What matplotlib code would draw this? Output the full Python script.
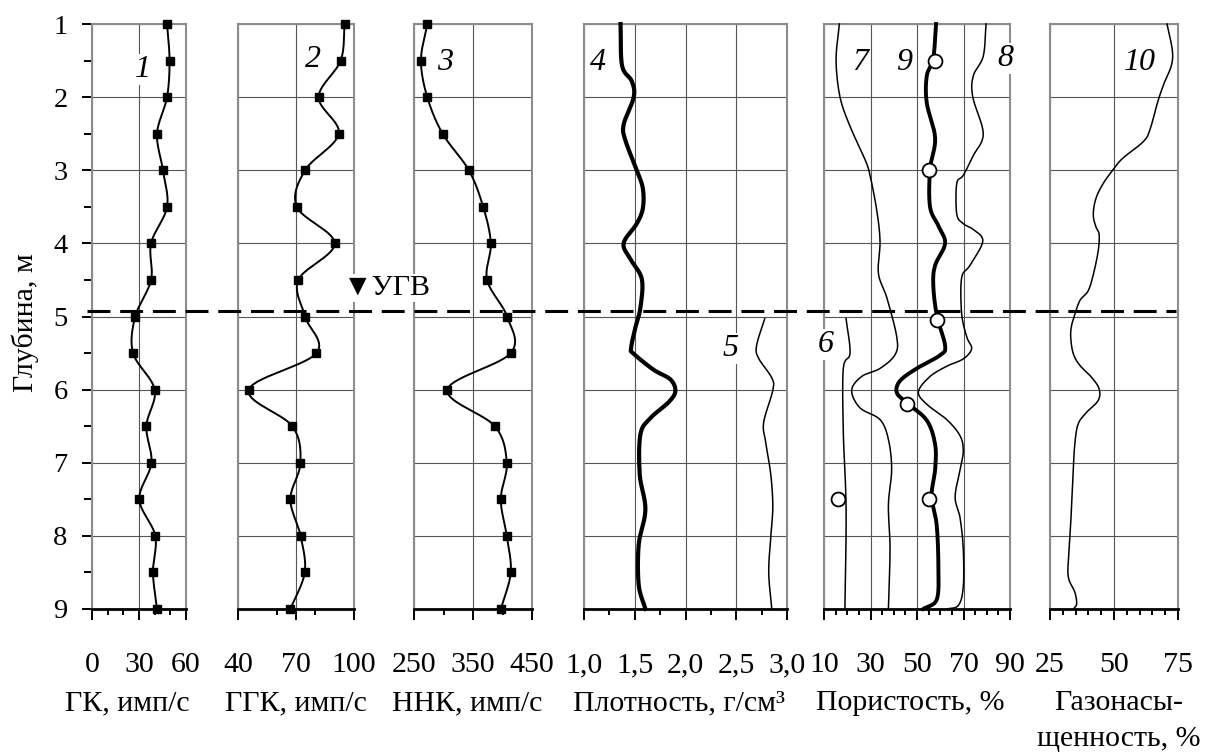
import numpy as np
import matplotlib
matplotlib.use('Agg')
import matplotlib.pyplot as plt
from matplotlib.lines import Line2D
from matplotlib.transforms import blended_transform_factory

plt.rcParams['font.family'] = ['Liberation Serif', 'DejaVu Serif']

# ------------------------------
#    DATA
# ------------------------------

# logging depths for the point curves 1-3, m
depth_pts = [1.0, 1.5, 2.0, 2.5, 3.0, 3.5, 4.0, 4.5, 5.0, 5.5, 6.0, 6.5, 7.0, 7.5, 8.0, 8.5, 9.0]
gk = [47.9, 49.5, 47.9, 41.5, 45.3, 47.9, 37.7, 37.7, 27.6, 26.2, 40.0, 34.7, 37.9, 30.2, 40.4, 38.9, 41.5]
ggk = [95.2, 93.1, 81.7, 92.1, 74.7, 70.4, 90.0, 71.2, 74.7, 80.6, 45.5, 68.1, 72.3, 67.1, 72.4, 74.5, 67.1]
nnk = [272.5, 261.8, 272.5, 298.5, 343.0, 367.2, 380.2, 373.9, 407.7, 414.0, 306.3, 387.0,
       407.2, 397.1, 407.2, 414.0, 397.1]

# curve 4 - density from logs, curve 5 - mineral density
dens_depth = [1.0, 1.57, 1.78, 2.0, 2.38, 2.6, 3.0, 3.25, 3.52, 3.73, 4.0, 4.22, 4.49, 4.88, 5.13,
              5.43, 5.51, 5.73, 5.86, 6.02, 6.17, 6.39, 6.61, 7.16, 7.64, 8.12, 8.67, 9.0]
dens = [1.36, 1.375, 1.47, 1.49, 1.39, 1.41, 1.52, 1.58, 1.58, 1.52, 1.39, 1.46, 1.57, 1.556, 1.51,
        1.464, 1.49, 1.687, 1.851, 1.9, 1.835, 1.654, 1.556, 1.549, 1.605, 1.539, 1.539, 1.605]
min_depth = [5.03, 5.4, 5.57, 5.84, 6.01, 6.45, 6.72, 7.16, 7.6, 8.02, 8.5, 9.0]
min_dens = [2.78, 2.70, 2.72, 2.85, 2.86, 2.77, 2.79, 2.84, 2.86, 2.84, 2.82, 2.85]

# porosity curves 6-9
por6_depth = [5.03, 5.5, 5.71, 6.57, 7.64, 9.0]
por6 = [19.5, 21.2, 18.3, 18.3, 19.5, 19.0]
por7_depth = [1.0, 1.5, 2.0, 2.4, 2.85, 3.07, 3.55, 3.97, 4.41, 4.74, 5.28, 5.52, 5.71, 5.82, 6.01,
              6.25, 6.41, 6.68, 7.09, 7.58, 8.18, 9.0]
por7 = [16.6, 15.2, 16.9, 21.2, 27.6, 29.8, 32.7, 34.1, 33.4, 37.0, 41.3, 40.6, 34.1, 26.2, 21.9,
        25.5, 34.1, 37.7, 39.1, 37.7, 38.4, 37.7]
por8_depth = [1.0, 1.44, 1.71, 2.0, 2.5, 2.8, 3.07, 3.18, 3.6, 3.73, 3.81, 3.97, 4.3, 4.47, 4.96,
              5.28, 5.44, 5.58, 5.68, 5.82, 6.03, 6.2, 6.41, 6.63, 6.84, 7.1, 7.47, 7.75, 8.18,
              8.7, 8.95, 9.0]
por8 = [79.7, 78.5, 74.2, 74.0, 78.5, 74.2, 69.9, 67.1, 67.1, 69.9, 74.2, 78.3, 72.8, 69.2, 69.2,
        71.4, 73.5, 69.9, 62.8, 55.6, 50.6, 54.2, 62.8, 68.5, 69.9, 68.5, 66.4, 68.5, 69.9,
        69.9, 67.8, 62.8]
por9_depth = [1.0, 1.47, 1.71, 2.08, 2.56, 2.99, 3.5, 3.76, 4.0, 4.3, 4.57, 4.98, 5.4, 5.53, 5.71,
              5.88, 6.04, 6.18, 6.42, 6.75, 7.09, 7.46, 7.86, 8.45, 8.87, 9.0]
por9 = [58.2, 57.0, 54.2, 54.2, 57.8, 55.6, 55.6, 59.2, 62.1, 57.8, 57.0, 58.5, 62.1, 59.9, 49.9,
        42.7, 41.3, 45.6, 54.2, 57.8, 57.8, 56.3, 58.5, 59.2, 58.5, 52.7]
# core samples (circles)
core_depth = [1.5, 3.0, 5.05, 6.2, 7.5, 7.5]
core_por = [57.8, 55.3, 58.5, 45.6, 55.3, 15.9]

# curve 10 - gas saturation
gas_depth = [1.0, 1.36, 1.57, 1.79, 2.05, 2.45, 2.61, 2.83, 2.97, 3.18, 3.39, 3.61, 3.77, 3.88,
             4.11, 4.43, 4.65, 4.78, 4.97, 5.13, 5.29, 5.51, 5.67, 5.83, 5.99, 6.15, 6.31, 6.47,
             6.74, 7.09, 7.63, 8.18, 8.55, 8.77, 8.93, 9.0]
gas = [70.7, 72.8, 72.4, 69.8, 67.2, 64.0, 61.4, 53.6, 50.1, 45.8, 42.9, 41.9, 42.9, 44.2,
       43.8, 41.9, 39.9, 36.7, 34.7, 33.4, 33.1, 34.1, 36.7, 41.2, 44.2, 43.8, 39.3, 36.0,
       34.7, 34.1, 33.4, 32.5, 32.1, 34.7, 35.4, 34.1]

ugv_depth = 4.92  # groundwater level, m

titles = ['ГК, имп/с', 'ГГК, имп/с', 'ННК, имп/с', 'Плотность, г/см³', 'Пористость, %',
          'Газонасы-']
title_line2 = 'щенность, %'
tick_labels = [
    ([0, 30, 60], ['0', '30', '60']),
    ([40, 70, 100], ['40', '70', '100']),
    ([250, 350, 450], ['250', '350', '450']),
    ([1.0, 1.5, 2.0, 2.5, 3.0], ['1,0', '1,5', '2,0', '2,5', '3,0']),
    ([10, 30, 50, 70, 90], ['10', '30', '50', '70', '90']),
    ([25, 50, 75], ['25', '50', '75']),
]

# ------------------------------
#    LAYOUT (pixels of the 1210x753 picture)
# ------------------------------

W, H = 1210, 753
TOP, BOT = 24, 609
FS = 21.5
FRAME = '#8c8c8c'
GRID = '#555555'

panels = [
    # x0, x1, xlim, major (grid) ticks, minor ticks
    (92, 186, (0, 60), [0, 30, 60], [10, 20, 40, 50]),
    (238, 354, (40, 100), [40, 70, 100], [60, 80]),
    (414, 532, (250, 450), [250, 350, 450], [300, 400]),
    (584, 787, (1.0, 3.0), [1.0, 1.5, 2.0, 2.5, 3.0], [1.25, 1.75, 2.25, 2.75]),
    (824, 1010, (10, 90), [10, 30, 50, 70, 90], [v for v in range(15, 90, 5) if v % 20 != 10]),
    (1050, 1178, (25, 75), [25, 50, 75], [v for v in range(30, 75, 5) if v != 50]),
]
title_x = [127, 296, 467, 679, 910, 1119]


def smooth(x, y, n=14):
    """Catmull-Rom curve through the points, like Excel's smoothed line."""
    p = np.column_stack([x, y]).astype(float)
    p = np.vstack([2 * p[0] - p[1], p, 2 * p[-1] - p[-2]])
    t = np.linspace(0, 1, n, endpoint=False)[:, None]
    segs = []
    for i in range(1, len(p) - 2):
        p0, p1, p2, p3 = p[i - 1], p[i], p[i + 1], p[i + 2]
        segs.append(0.5 * (2 * p1 + (p2 - p0) * t + (2 * p0 - 5 * p1 + 4 * p2 - p3) * t ** 2
                           + (3 * p1 - p0 - 3 * p2 + p3) * t ** 3))
    segs.append(p[-2][None])
    out = np.vstack(segs)
    return out[:, 0], out[:, 1]


fig = plt.figure(figsize=(W / 100, H / 100), dpi=100)
axes = []
for i, (x0, x1, xlim, major, minor) in enumerate(panels):
    ax = fig.add_axes([x0 / W, 1 - BOT / H, (x1 - x0) / W, (BOT - TOP) / H])
    ax.set_xlim(*xlim)
    ax.set_ylim(9, 1)
    ax.set_xticks(major)
    ax.set_xticks(minor, minor=True)
    ax.set_yticks(range(1, 10))
    ax.set_yticks(np.arange(1.5, 9, 1.0), minor=True)
    ax.set_axisbelow(True)
    ax.grid(True, which='major', color=GRID, lw=0.8)
    ax.tick_params(axis='x', which='major', direction='out', length=8, width=1.4, color='black',
                   labelbottom=False)
    ax.tick_params(axis='x', which='minor', direction='out', length=4.5, width=1.4, color='black')
    if i == 0:
        ax.tick_params(axis='y', which='major', direction='out', length=7.5, width=1.4,
                       color='black', labelsize=20.5, pad=10)
        ax.tick_params(axis='y', which='minor', direction='out', length=5.5, width=1.4,
                       color='black')
    else:
        ax.tick_params(axis='y', which='both', left=False, labelleft=False)
    for side in ('left', 'right', 'top'):
        ax.spines[side].set_color(FRAME)
        ax.spines[side].set_linewidth(1.5)
    ax.spines['bottom'].set_color('black')
    ax.spines['bottom'].set_linewidth(2.0)

    trans = blended_transform_factory(ax.transData, ax.transAxes)
    for v, s in zip(*tick_labels[i]):
        ax.text(v, -(672 - BOT) / (BOT - TOP), s, transform=trans, ha='center', va='baseline',
                fontsize=FS, clip_on=False)
    fig.text(title_x[i] / W, 1 - 710 / H, titles[i], ha='center', va='baseline', fontsize=FS)
    axes.append(ax)

fig.text(title_x[-1] / W, 1 - 746 / H, title_line2, ha='center', va='baseline', fontsize=FS)

ax1, ax2, ax3, ax4, ax5, ax6 = axes

# curves 1-3 with square markers
for ax, vals in ((ax1, gk), (ax2, ggk), (ax3, nnk)):
    sx, sy = smooth(vals, depth_pts)
    ax.plot(sx, sy, color='black', lw=1.4, zorder=3, clip_on=False)
    ax.plot(vals, depth_pts, ls='none', marker='s', ms=5.3, color='black', zorder=4, clip_on=False)

# density
sx, sy = smooth(dens, dens_depth, 8)
ax4.plot(sx, sy, color='black', lw=3.0, zorder=3, clip_on=False)
sx, sy = smooth(min_dens, min_depth, 8)
ax4.plot(sx, sy, color='black', lw=1.1, zorder=3)

# porosity
for vals, dep in ((por6, por6_depth), (por7, por7_depth), (por8, por8_depth)):
    sx, sy = smooth(vals, dep, 8)
    ax5.plot(sx, sy, color='black', lw=1.1, zorder=3, clip_on=False)
sx, sy = smooth(por9, por9_depth, 8)
ax5.plot(sx, sy, color='black', lw=2.8, zorder=3, clip_on=False)
ax5.plot(core_por, core_depth, ls='none', marker='o', ms=10, mfc='white', mec='black', mew=1.3,
         zorder=5, clip_on=False)

# gas saturation
sx, sy = smooth(gas, gas_depth, 8)
ax6.plot(sx, sy, color='black', lw=1.1, zorder=3, clip_on=False)

# curve numbers
label_box = dict(facecolor='white', edgecolor='none', pad=1.0)
curve_labels = [
    (ax1, 32.4, 1.62, '1'), (ax2, 78.8, 1.49, '2'), (ax3, 303, 1.52, '3'),
    (ax4, 1.14, 1.53, '4'), (ax4, 2.44, 5.44, '5'), (ax5, 10.6, 5.38, '6'),
    (ax5, 25.6, 1.53, '7'), (ax5, 87.8, 1.47, '8'), (ax5, 44.4, 1.52, '9'),
    (ax6, 60.0, 1.52, '10'),
]
for ax, x, y, s in curve_labels:
    ax.text(x, y, s, fontsize=23, style='italic', ha='center', va='center', bbox=label_box,
            zorder=6, clip_on=False)

# groundwater level across the whole figure
ugv_trans = blended_transform_factory(fig.transFigure, ax1.transData)
fig.add_artist(Line2D([87 / W, 1176 / W], [ugv_depth, ugv_depth], transform=ugv_trans,
                      color='black', lw=2.2, linestyle=(0, (7.5, 3.2)), zorder=10))
fig.text(343 / W, 1 - 288 / H, '▼УГВ', fontsize=FS, ha='left', va='center',
         bbox=dict(facecolor='white', edgecolor='none', pad=0.5), zorder=11)

fig.text(25 / W, 1 - 323 / H, 'Глубина, м', rotation=90, ha='center', va='center', fontsize=FS)

fig.savefig('out.png', dpi=100, facecolor='white')
